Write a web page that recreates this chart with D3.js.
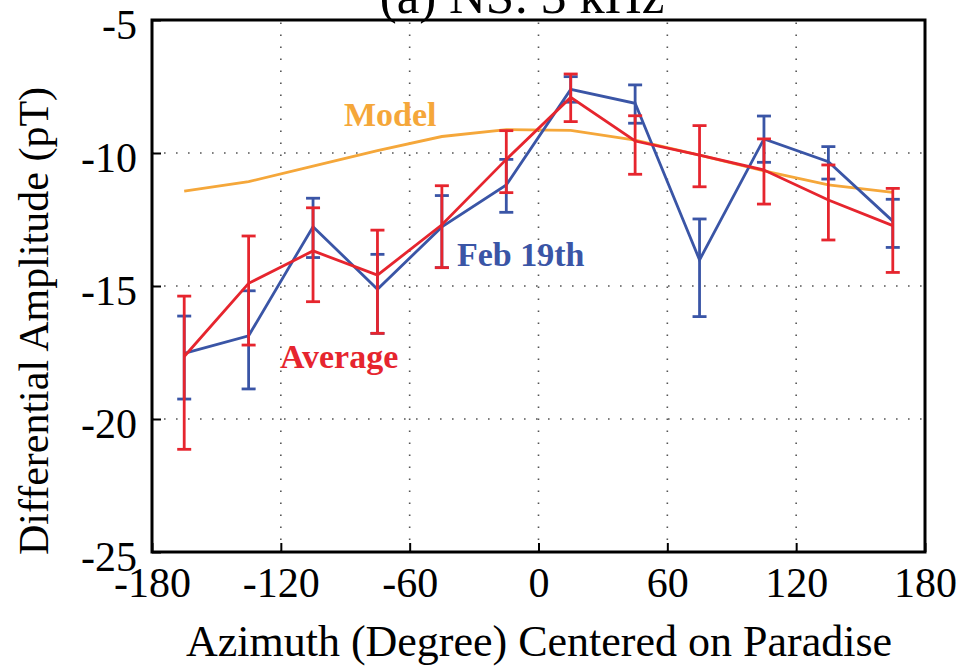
<!DOCTYPE html>
<html>
<head>
<meta charset="utf-8">
<script src="https://cdn.jsdelivr.net/npm/d3@7"></script>
<style>
  html, body { margin: 0; padding: 0; background: #fff; }
  svg { display: block; }
  text { font-family: "Liberation Serif", "Times New Roman", serif; }
</style>
</head>
<body>
<svg id="chart" width="959" height="667"></svg>
<script>
// Azimuth bins (degrees, centred on Paradise)
const azimuth = [-165, -135, -105, -75, -45, -15, 15, 45, 75, 105, 135, 165];

// Average differential amplitude (pT) with error-bar limits
const avgValue = [-17.65, -14.9, -13.68, -14.59, -12.7, -10.24, -7.91, -9.55, -10.08, -10.64, -11.77, -12.73];
const avgLow   = [-21.14, -17.22, -15.59, -16.78, -14.31, -11.49, -8.82, -10.8, -11.27, -11.92, -13.27, -14.49];
const avgHigh  = [-15.38, -13.12, -12.06, -12.9, -11.23, -9.16, -7.03, -8.6, -8.97, -9.47, -10.45, -11.33];

// Feb 19th differential amplitude (pT) with error-bar limits
const febValue = [-17.53, -16.87, -12.77, -15.12, -12.78, -11.2, -7.61, -8.13, -14.02, -9.47, -10.33, -12.56];
const febLow   = [-19.25, -18.87, -13.93, -16.78, -14.31, -12.23, -8.09, -8.88, -16.15, -10.35, -10.98, -13.55];
const febHigh  = [-16.13, -15.18, -11.7, -13.81, -11.6, -10.24, -7.13, -7.44, -12.48, -8.61, -9.76, -11.74];

// Model curve (pT)
const modelValue = [-11.43, -11.08, -10.49, -9.91, -9.38, -9.12, -9.15, -9.52, -10.08, -10.67, -11.2, -11.48];

const xTicks = [-180, -120, -60, 0, 60, 120, 180];
const yTicks = [-5, -10, -15, -20, -25];

const svg = d3.select("#chart");
const plotLeft = 152, plotRight = 925, plotTop = 20, plotBottom = 552;

const x = d3.scaleLinear().domain([-180, 180]).range([plotLeft, plotRight]);
const y = d3.scaleLinear().domain([-25, -5]).range([plotBottom, plotTop]);

const colors = { avg: "#e6252e", feb: "#3a55a6", model: "#f5a73a" };

// Dotted grid
const grid = svg.append("g").attr("stroke", "#555").attr("stroke-width", 1.6)
  .attr("stroke-dasharray", "1.6,10.4");
grid.selectAll("line.gx").data(xTicks.slice(1, -1)).join("line")
  .attr("x1", d => x(d)).attr("x2", d => x(d))
  .attr("y1", plotBottom).attr("y2", plotTop);
grid.selectAll("line.gy").data(yTicks.slice(1, -1)).join("line")
  .attr("y1", d => y(d)).attr("y2", d => y(d))
  .attr("x1", plotLeft).attr("x2", plotRight);

// Axes with inward ticks; plain hyphen for negative numbers
const fmt = d => String(d);
const xAxis = svg.append("g").attr("transform", `translate(0,${plotBottom})`)
  .call(d3.axisBottom(x).tickValues(xTicks).tickSize(-9).tickPadding(15).tickFormat(fmt));
const yAxis = svg.append("g").attr("transform", `translate(${plotLeft},0)`)
  .call(d3.axisLeft(y).tickValues(yTicks).tickSize(-9).tickPadding(15).tickFormat(fmt));
[xAxis, yAxis].forEach(a => {
  a.select(".domain").remove();
  a.selectAll(".tick line").attr("stroke", "#000").attr("stroke-width", 2);
  a.selectAll(".tick text").attr("font-family", "Liberation Serif, serif")
    .attr("font-size", 42).attr("fill", "#000");
});
xAxis.selectAll(".tick text").attr("dy", "0.71em");
yAxis.selectAll(".tick text").attr("dy", "0.45em");

// Frame
svg.append("rect").attr("x", plotLeft).attr("y", plotTop)
  .attr("width", plotRight - plotLeft).attr("height", plotBottom - plotTop)
  .attr("fill", "none").attr("stroke", "#000").attr("stroke-width", 3);

// Model line
const line = d3.line().x((d, i) => x(azimuth[i])).y(d => y(d));
svg.append("path").datum(modelValue).attr("d", line)
  .attr("fill", "none").attr("stroke", colors.model).attr("stroke-width", 2.8);

// Series with error bars
function drawSeries(values, lows, highs, color) {
  const g = svg.append("g").attr("stroke", color).attr("stroke-width", 2.8).attr("fill", "none");
  const bars = g.selectAll("g.bar").data(azimuth).join("g");
  bars.append("line")
    .attr("x1", d => x(d)).attr("x2", d => x(d))
    .attr("y1", (d, i) => y(lows[i])).attr("y2", (d, i) => y(highs[i]));
  bars.append("line")
    .attr("x1", d => x(d) - 7).attr("x2", d => x(d) + 7)
    .attr("y1", (d, i) => y(lows[i])).attr("y2", (d, i) => y(lows[i]));
  bars.append("line")
    .attr("x1", d => x(d) - 7).attr("x2", d => x(d) + 7)
    .attr("y1", (d, i) => y(highs[i])).attr("y2", (d, i) => y(highs[i]));
  g.append("path").datum(values).attr("d", line);
}
drawSeries(febValue, febLow, febHigh, colors.feb);
drawSeries(avgValue, avgLow, avgHigh, colors.avg);

// Series labels
const lab = svg.append("g").attr("font-weight", "bold").attr("font-size", 34);
lab.append("text").attr("x", 344).attr("y", 126).attr("fill", colors.model).text("Model");
lab.append("text").attr("x", 457).attr("y", 266).attr("fill", colors.feb).text("Feb 19th");
lab.append("text").attr("x", 280).attr("y", 368).attr("fill", colors.avg).text("Average");

// Title (its upper part runs off the top of the canvas)
svg.append("text").attr("x", 522).attr("y", 13).attr("text-anchor", "middle")
  .attr("font-size", 51).text("(a) NS: 3 kHz");

// Axis titles
svg.append("text").attr("x", 539).attr("y", 656).attr("text-anchor", "middle")
  .attr("font-size", 44).text("Azimuth (Degree) Centered on Paradise");
svg.append("text").attr("transform", "translate(48,321) rotate(-90)")
  .attr("text-anchor", "middle").attr("font-size", 42).text("Differential Amplitude (pT)");
</script>
</body>
</html>
